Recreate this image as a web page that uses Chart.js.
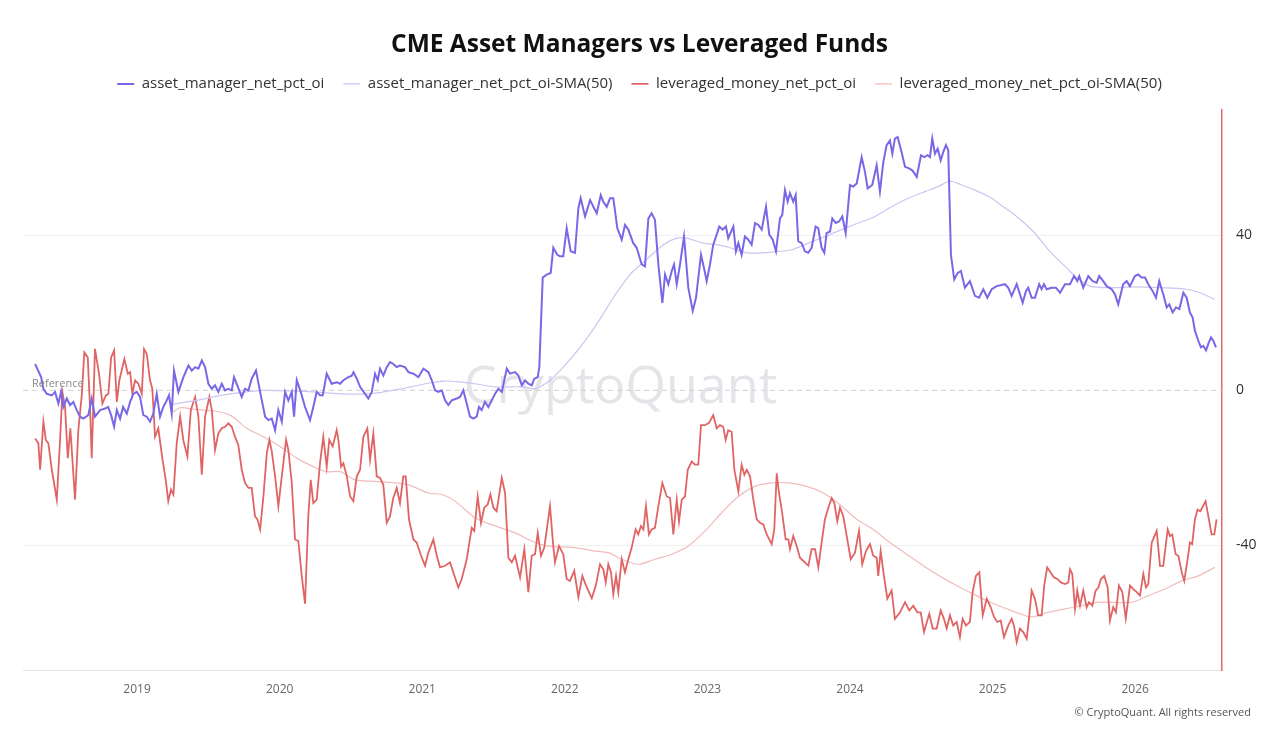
<!DOCTYPE html>
<html lang="en">
<head>
<meta charset="UTF-8">
<title>CME Asset Managers vs Leveraged Funds</title>
<script src="https://cdn.jsdelivr.net/npm/chart.js"></script>
<style>
    html, body {
        margin: 0;
        padding: 0;
        background-color: #ffffff;
    }

    .chart-box {
        position: relative;
        width: 1279px;
        height: 741px;
    }
</style>
</head>
<body>
<div class="chart-box">
    <canvas id="cme-chart"></canvas>
</div>

<script>
// Weekly net % of open interest, dates as decimal years
const amTime = [
    2018.285, 2018.327, 2018.343, 2018.367, 2018.402, 2018.425, 2018.448, 2018.467, 2018.483, 2018.507,
    2018.530, 2018.553, 2018.577, 2018.600, 2018.623, 2018.658, 2018.682, 2018.705, 2018.741, 2018.776,
    2018.797, 2018.818, 2018.839, 2018.858, 2018.881, 2018.902, 2018.928, 2018.951, 2018.974, 2018.998,
    2019.021, 2019.044, 2019.068, 2019.091, 2019.114, 2019.138, 2019.161, 2019.184, 2019.208, 2019.224,
    2019.243, 2019.259, 2019.290, 2019.325, 2019.360, 2019.384, 2019.407, 2019.430, 2019.454, 2019.477,
    2019.500, 2019.524, 2019.547, 2019.570, 2019.594, 2019.617, 2019.640, 2019.664, 2019.680, 2019.703,
    2019.734, 2019.757, 2019.781, 2019.804, 2019.834, 2019.863, 2019.898, 2019.921, 2019.945, 2019.968,
    2019.991, 2020.015, 2020.038, 2020.061, 2020.085, 2020.101, 2020.120, 2020.148, 2020.178, 2020.213,
    2020.236, 2020.260, 2020.283, 2020.302, 2020.330, 2020.365, 2020.400, 2020.424, 2020.447, 2020.482,
    2020.506, 2020.518, 2020.541, 2020.564, 2020.599, 2020.622, 2020.646, 2020.669, 2020.688, 2020.704,
    2020.727, 2020.751, 2020.774, 2020.797, 2020.821, 2020.844, 2020.879, 2020.903, 2020.938, 2020.973,
    2021.008, 2021.043, 2021.067, 2021.090, 2021.113, 2021.137, 2021.160, 2021.183, 2021.207, 2021.242,
    2021.265, 2021.288, 2021.312, 2021.335, 2021.358, 2021.382, 2021.398, 2021.417, 2021.440, 2021.464,
    2021.487, 2021.511, 2021.534, 2021.558, 2021.593, 2021.616, 2021.651, 2021.674, 2021.698, 2021.721,
    2021.744, 2021.768, 2021.786, 2021.810, 2021.821, 2021.845, 2021.873, 2021.901, 2021.919, 2021.947,
    2021.966, 2021.989, 2022.013, 2022.041, 2022.071, 2022.095, 2022.111, 2022.142, 2022.177, 2022.200,
    2022.224, 2022.252, 2022.270, 2022.294, 2022.317, 2022.340, 2022.368, 2022.399, 2022.422, 2022.445,
    2022.480, 2022.504, 2022.539, 2022.562, 2022.586, 2022.609, 2022.632, 2022.656, 2022.684, 2022.703,
    2022.726, 2022.750, 2022.766, 2022.785, 2022.808, 2022.836, 2022.866, 2022.897, 2022.920, 2022.936,
    2022.955, 2022.976, 2022.995, 2023.018, 2023.041, 2023.065, 2023.083, 2023.107, 2023.130, 2023.146,
    2023.182, 2023.200, 2023.217, 2023.240, 2023.263, 2023.287, 2023.310, 2023.334, 2023.357, 2023.381,
    2023.411, 2023.434, 2023.458, 2023.481, 2023.509, 2023.525, 2023.544, 2023.563, 2023.579, 2023.602,
    2023.619, 2023.637, 2023.661, 2023.684, 2023.707, 2023.731, 2023.759, 2023.777, 2023.801, 2023.820,
    2023.836, 2023.860, 2023.876, 2023.900, 2023.923, 2023.946, 2023.970, 2024.000, 2024.023, 2024.047,
    2024.082, 2024.105, 2024.124, 2024.156, 2024.187, 2024.210, 2024.234, 2024.257, 2024.280, 2024.297,
    2024.315, 2024.334, 2024.362, 2024.386, 2024.414, 2024.437, 2024.468, 2024.498, 2024.521, 2024.545,
    2024.561, 2024.577, 2024.596, 2024.615, 2024.636, 2024.654, 2024.673, 2024.689, 2024.708, 2024.731,
    2024.755, 2024.778, 2024.806, 2024.841, 2024.876, 2024.905, 2024.935, 2024.963, 2024.994, 2025.029,
    2025.087, 2025.110, 2025.134, 2025.169, 2025.192, 2025.211, 2025.234, 2025.250, 2025.274, 2025.297,
    2025.327, 2025.344, 2025.360, 2025.379, 2025.414, 2025.444, 2025.473, 2025.508, 2025.543, 2025.571,
    2025.594, 2025.608, 2025.636, 2025.671, 2025.702, 2025.730, 2025.748, 2025.776, 2025.800, 2025.835,
    2025.858, 2025.881, 2025.916, 2025.940, 2025.963, 2025.998, 2026.022, 2026.045, 2026.069, 2026.092,
    2026.123, 2026.146, 2026.169, 2026.197, 2026.221, 2026.239, 2026.263, 2026.286, 2026.310, 2026.338,
    2026.361, 2026.384, 2026.403, 2026.419, 2026.443, 2026.461, 2026.478, 2026.497, 2026.513, 2026.532,
    2026.548, 2026.567
];
const amValue = [
    6.8, 3.4, 0.4, -0.9, -1.3, -0.4, -3.4, -0.4, -4.3, -2.1,
    -3.8, -3.0, -5.1, -6.8, -7.3, -6.4, -2.1, -6.8, -5.1, -4.7,
    -4.3, -6.4, -9.4, -5.1, -7.3, -4.3, -6.0, -3.0, -0.9, -0.4,
    -1.7, -6.4, -6.8, -8.1, -6.0, -0.9, -6.8, -4.3, -2.6, -1.3,
    -6.0, 5.1, -0.4, 3.4, 6.4, 5.1, 6.0, 5.6, 7.7, 6.0,
    1.7, 0.4, 1.3, -0.4, 1.7, 0, 0.4, 0, 3.4, 1.3,
    -1.7, 0.4, 0, 3.0, 5.1, -0.4, -6.8, -7.7, -7.3, -10.3,
    -5.1, -8.1, -0.4, -2.6, -0.4, -6.8, 2.6, -0.4, -4.3, -7.7,
    -4.3, -0.4, -1.3, -1.3, 4.3, 1.7, 2.1, 1.7, 2.6, 3.4,
    3.8, 4.7, 3.0, 0.9, -0.9, -2.1, -0.4, 4.3, 2.6, 5.6,
    3.8, 6.0, 7.3, 6.8, 6.0, 6.4, 6.0, 4.7, 4.3, 3.4,
    5.6, 4.7, 2.6, 0, -0.4, 0, -2.6, -3.8, -2.6, -2.1,
    -1.7, 0, -3.4, -6.8, -7.3, -6.8, -4.3, -5.1, -3.0, -4.3,
    -2.6, -0.9, 0.4, -0.4, 5.6, 4.3, 4.7, 3.8, 1.3, 2.6,
    1.7, 1.3, 3.0, 3.4, 5.9, 29.1, 29.9, 30.3, 36.8, 35.0,
    34.6, 34.6, 41.9, 35.9, 35.5, 47.0, 49.6, 44.9, 49.1, 47.4,
    45.7, 50.4, 48.7, 47.4, 49.6, 49.6, 41.9, 38.9, 42.7, 41.5,
    38.0, 36.8, 32.5, 32.0, 44.4, 45.7, 44.0, 32.5, 22.6, 29.9,
    27.4, 30.8, 32.5, 27.4, 32.5, 39.7, 26.5, 20.5, 23.9, 29.0,
    35.0, 31.6, 28.2, 32.5, 37.6, 40.2, 42.3, 41.5, 42.3, 39.3,
    42.3, 35.9, 38.0, 35.0, 39.7, 38.9, 37.6, 43.2, 42.7, 41.5,
    47.4, 40.2, 38.9, 35.9, 44.4, 45.3, 51.7, 48.7, 50.9, 48.7,
    50.4, 38.5, 38.0, 35.9, 35.5, 36.8, 42.3, 41.9, 36.8, 35.5,
    40.6, 41.0, 44.4, 43.2, 43.6, 44.9, 40.6, 53.0, 52.6, 53.4,
    60.2, 56.4, 52.1, 53.0, 58.1, 51.3, 59.0, 63.3, 64.5, 61.1,
    65.0, 65.4, 61.5, 57.7, 57.3, 56.8, 55.1, 60.7, 60.2, 60.7,
    60.2, 65.0, 61.1, 62.4, 59.4, 61.5, 63.3, 62.0, 35.0, 28.6,
    30.3, 30.8, 26.5, 28.2, 24.4, 23.9, 26.1, 23.9, 26.1, 26.9,
    27.4, 26.5, 24.4, 27.4, 24.8, 22.6, 25.6, 26.5, 23.9, 23.9,
    27.4, 26.1, 27.4, 26.1, 26.5, 26.5, 25.2, 27.4, 27.4, 29.5,
    28.2, 29.5, 26.5, 29.5, 28.2, 27.8, 29.5, 28.2, 26.9, 26.1,
    24.8, 22.2, 27.4, 28.2, 26.9, 29.5, 29.9, 29.1, 29.1, 27.4,
    25.6, 23.9, 28.2, 24.8, 21.4, 22.2, 20.1, 21.4, 21.0, 25.2,
    23.9, 20.1, 18.8, 15.4, 12.8, 11.1, 11.5, 10.3, 12.0, 13.7,
    12.8, 11.1
];

const lmTime = [
    2018.285, 2018.308, 2018.320, 2018.343, 2018.360, 2018.378, 2018.402, 2018.437, 2018.460, 2018.476,
    2018.495, 2018.514, 2018.532, 2018.565, 2018.588, 2018.612, 2018.630, 2018.654, 2018.670, 2018.682,
    2018.705, 2018.733, 2018.757, 2018.781, 2018.799, 2018.818, 2018.839, 2018.858, 2018.876, 2018.911,
    2018.935, 2018.951, 2018.967, 2018.986, 2019.009, 2019.033, 2019.049, 2019.068, 2019.091, 2019.107,
    2019.126, 2019.149, 2019.177, 2019.201, 2019.219, 2019.238, 2019.255, 2019.278, 2019.302, 2019.325,
    2019.353, 2019.377, 2019.407, 2019.430, 2019.454, 2019.477, 2019.507, 2019.524, 2019.547, 2019.570,
    2019.594, 2019.617, 2019.640, 2019.664, 2019.687, 2019.710, 2019.734, 2019.757, 2019.781, 2019.804,
    2019.827, 2019.844, 2019.863, 2019.886, 2019.910, 2019.928, 2019.945, 2019.968, 2019.991, 2020.015,
    2020.045, 2020.061, 2020.085, 2020.108, 2020.131, 2020.155, 2020.178, 2020.201, 2020.218, 2020.236,
    2020.260, 2020.283, 2020.306, 2020.330, 2020.348, 2020.372, 2020.400, 2020.412, 2020.431, 2020.447,
    2020.471, 2020.494, 2020.517, 2020.541, 2020.564, 2020.587, 2020.615, 2020.634, 2020.657, 2020.681,
    2020.704, 2020.727, 2020.751, 2020.774, 2020.797, 2020.821, 2020.844, 2020.867, 2020.884, 2020.907,
    2020.938, 2020.961, 2020.992, 2021.020, 2021.043, 2021.078, 2021.102, 2021.125, 2021.160, 2021.195,
    2021.218, 2021.253, 2021.277, 2021.312, 2021.347, 2021.365, 2021.389, 2021.412, 2021.435, 2021.459,
    2021.478, 2021.499, 2021.522, 2021.558, 2021.581, 2021.604, 2021.628, 2021.651, 2021.686, 2021.716,
    2021.744, 2021.768, 2021.791, 2021.810, 2021.833, 2021.856, 2021.896, 2021.919, 2021.931, 2021.959,
    2021.989, 2022.013, 2022.036, 2022.066, 2022.095, 2022.123, 2022.154, 2022.189, 2022.217, 2022.247,
    2022.270, 2022.287, 2022.305, 2022.324, 2022.340, 2022.359, 2022.375, 2022.399, 2022.422, 2022.445,
    2022.469, 2022.497, 2022.515, 2022.534, 2022.551, 2022.569, 2022.590, 2022.609, 2022.632, 2022.656,
    2022.684, 2022.715, 2022.738, 2022.761, 2022.785, 2022.801, 2022.820, 2022.843, 2022.862, 2022.890,
    2022.913, 2022.936, 2022.955, 2022.983, 2023.011, 2023.041, 2023.065, 2023.088, 2023.111, 2023.128,
    2023.146, 2023.170, 2023.189, 2023.217, 2023.240, 2023.259, 2023.276, 2023.299, 2023.322, 2023.346,
    2023.369, 2023.392, 2023.416, 2023.451, 2023.469, 2023.486, 2023.502, 2023.521, 2023.549, 2023.568,
    2023.579, 2023.602, 2023.626, 2023.649, 2023.672, 2023.708, 2023.731, 2023.755, 2023.778, 2023.801,
    2023.824, 2023.848, 2023.872, 2023.890, 2023.911, 2023.930, 2023.953, 2023.981, 2024.005, 2024.035,
    2024.063, 2024.086, 2024.112, 2024.140, 2024.163, 2024.187, 2024.198, 2024.215, 2024.238, 2024.262,
    2024.292, 2024.315, 2024.351, 2024.386, 2024.416, 2024.444, 2024.472, 2024.496, 2024.519, 2024.556,
    2024.580, 2024.608, 2024.636, 2024.659, 2024.678, 2024.701, 2024.724, 2024.748, 2024.771, 2024.790,
    2024.813, 2024.841, 2024.860, 2024.883, 2024.907, 2024.931, 2024.959, 2024.987, 2025.010, 2025.033,
    2025.057, 2025.080, 2025.110, 2025.134, 2025.150, 2025.169, 2025.192, 2025.215, 2025.239, 2025.255,
    2025.274, 2025.297, 2025.320, 2025.344, 2025.362, 2025.383, 2025.407, 2025.431, 2025.454, 2025.478,
    2025.508, 2025.531, 2025.543, 2025.559, 2025.578, 2025.594, 2025.613, 2025.636, 2025.660, 2025.676,
    2025.700, 2025.723, 2025.742, 2025.760, 2025.783, 2025.807, 2025.823, 2025.846, 2025.865, 2025.886,
    2025.910, 2025.934, 2025.964, 2025.987, 2026.011, 2026.034, 2026.057, 2026.076, 2026.092, 2026.116,
    2026.151, 2026.174, 2026.197, 2026.228, 2026.244, 2026.260, 2026.284, 2026.303, 2026.327, 2026.344,
    2026.368, 2026.384, 2026.400, 2026.419, 2026.438, 2026.457, 2026.494, 2026.517, 2026.536, 2026.555,
    2026.571
];
const lmValue = [
    -12.4, -13.7, -20.5, -8.1, -12.8, -13.7, -20.5, -28.2, -12.8, -0.4,
    -4.3, -17.5, -9.8, -28.2, -10.3, -1.3, 9.8, 8.5, -4.3, -17.5,
    10.7, 4.3, -3.4, -1.3, -0.9, 8.5, 10.3, -3.0, 2.6, 8.1,
    4.3, 4.7, -0.9, 2.6, 1.7, -0.9, 10.7, 9.4, 2.6, 0.4,
    -12.0, -9.8, -17.5, -23.1, -28.6, -25.6, -26.9, -13.7, -6.8, -13.0,
    -17.1, -5.1, -1.7, -6.8, -21.8, -6.8, -1.7, -5.1, -15.4, -11.1,
    -9.8, -9.4, -8.5, -9.4, -12.0, -14.1, -20.5, -23.9, -25.2, -25.2,
    -32.5, -33.3, -35.9, -27.4, -16.2, -12.8, -15.8, -22.2, -29.9, -22.2,
    -12.8, -15.4, -23.9, -38.5, -38.9, -47.9, -55.1, -32.5, -23.1, -29.1,
    -28.2, -18.8, -12.0, -19.7, -12.8, -14.5, -10.3, -12.8, -19.7, -18.8,
    -22.2, -27.4, -28.6, -22.2, -20.5, -12.0, -9.8, -17.9, -11.1, -22.2,
    -22.6, -24.4, -34.2, -32.5, -27.8, -25.2, -29.1, -22.2, -22.2, -33.3,
    -38.5, -39.3, -42.7, -45.3, -41.9, -38.5, -42.7, -45.7, -45.3, -44.4,
    -47.0, -50.9, -48.7, -43.6, -35.5, -36.3, -27.4, -34.2, -30.3, -29.5,
    -26.9, -30.3, -31.2, -22.6, -26.5, -43.2, -44.4, -42.7, -48.3, -41.0,
    -52.1, -42.7, -42.3, -36.8, -42.7, -40.6, -29.9, -40.2, -44.4, -40.2,
    -42.3, -48.7, -49.2, -46.6, -53.4, -47.9, -50.9, -53.7, -50.4, -44.9,
    -46.2, -49.6, -44.9, -47.0, -52.6, -47.9, -52.1, -43.6, -47.0, -43.6,
    -40.6, -35.9, -37.2, -35.0, -35.9, -29.9, -37.2, -35.9, -35.5, -29.9,
    -23.9, -27.4, -27.8, -37.2, -28.2, -33.8, -28.2, -27.4, -20.5, -18.4,
    -19.2, -19.2, -9.0, -9.0, -8.4, -6.4, -9.8, -9.0, -9.4, -12.8,
    -10.3, -10.7, -20.5, -26.1, -19.2, -21.8, -20.5, -22.2, -28.2, -33.3,
    -34.2, -34.6, -37.2, -39.7, -35.9, -21.4, -26.5, -30.8, -38.5, -38.5,
    -41.0, -37.6, -40.2, -43.2, -44.0, -45.3, -41.0, -41.0, -45.7, -39.3,
    -33.3, -30.3, -27.8, -29.1, -33.8, -30.3, -32.5, -38.5, -43.6, -41.9,
    -36.3, -44.9, -41.5, -39.7, -42.7, -43.2, -47.9, -41.5, -47.9, -53.8,
    -51.7, -59.0, -57.3, -54.7, -56.8, -55.6, -57.3, -57.3, -62.4, -57.7,
    -61.5, -61.5, -56.8, -59.0, -61.5, -58.1, -60.7, -59.8, -63.7, -59.0,
    -60.7, -59.8, -52.1, -47.9, -47.0, -58.1, -53.8, -56.0, -58.5, -59.8,
    -59.4, -63.7, -60.7, -59.0, -60.7, -65.0, -61.5, -62.4, -64.1, -59.0,
    -51.7, -53.8, -58.1, -58.1, -50.4, -45.7, -47.0, -48.3, -48.7, -49.6,
    -50.0, -49.6, -46.2, -47.4, -56.4, -51.7, -55.6, -51.7, -56.0, -54.7,
    -55.6, -51.7, -50.9, -48.7, -47.9, -50.9, -59.4, -56.0, -57.3, -50.4,
    -52.1, -58.9, -50.4, -51.3, -52.1, -53.0, -47.4, -50.9, -50.0, -39.3,
    -36.3, -45.3, -45.3, -35.9, -37.6, -37.2, -42.3, -42.7, -47.0, -49.2,
    -43.6, -39.3, -39.7, -33.3, -30.8, -31.2, -28.6, -33.3, -37.2, -37.2,
    -33.3
];

// 50-week simple moving averages
const amSmaTime = [
    2019.243, 2019.419, 2019.535, 2019.652, 2019.769, 2019.886, 2020.120, 2020.236, 2020.424, 2020.620,
    2020.856, 2021.020, 2021.160, 2021.277, 2021.370, 2021.511, 2021.698, 2021.791, 2021.826, 2021.896,
    2021.989, 2022.107, 2022.224, 2022.340, 2022.457, 2022.574, 2022.691, 2022.785, 2022.855, 2022.971,
    2023.065, 2023.158, 2023.276, 2023.392, 2023.509, 2023.591, 2023.707, 2023.825, 2023.942, 2024.058,
    2024.175, 2024.292, 2024.409, 2024.526, 2024.619, 2024.701, 2024.783, 2024.876, 2024.994, 2025.052,
    2025.169, 2025.285, 2025.402, 2025.519, 2025.589, 2025.683, 2025.823, 2025.987, 2026.174, 2026.361,
    2026.454, 2026.559
];
const amSmaValue = [
    -3.6, -2.6, -1.7, -0.9, -0.4, 0, -0.2, -0.4, -0.9, -0.9,
    0.4, 1.7, 2.4, 2.1, 1.7, 0.9, 0.9, 0.4, 0.9, 2.6,
    6.0, 11.1, 17.1, 23.9, 29.9, 33.8, 37.6, 39.3, 39.3, 38.0,
    37.6, 36.8, 35.5, 35.5, 35.9, 36.3, 38.0, 39.7, 41.5, 43.2,
    44.9, 47.4, 49.6, 51.3, 52.6, 54.0, 53.0, 51.7, 49.6, 48.0,
    44.9, 41.0, 35.9, 31.6, 29.1, 26.9, 26.5, 26.7, 26.5, 26.1,
    25.2, 23.5
];

const lmSmaTime = [
    2019.252, 2019.302, 2019.419, 2019.535, 2019.652, 2019.769, 2019.886, 2020.003, 2020.120, 2020.236,
    2020.330, 2020.424, 2020.529, 2020.669, 2020.809, 2020.903, 2021.043, 2021.137, 2021.230, 2021.370,
    2021.511, 2021.651, 2021.791, 2021.884, 2022.071, 2022.212, 2022.305, 2022.399, 2022.515, 2022.632,
    2022.750, 2022.866, 2022.983, 2023.100, 2023.217, 2023.334, 2023.451, 2023.568, 2023.697, 2023.813,
    2023.930, 2024.047, 2024.163, 2024.280, 2024.397, 2024.514, 2024.626, 2024.748, 2024.864, 2024.982,
    2025.099, 2025.192, 2025.274, 2025.390, 2025.508, 2025.625, 2025.742, 2025.976, 2026.092, 2026.209,
    2026.327, 2026.443, 2026.559
];
const lmSmaValue = [
    -5.6, -4.5, -5.0, -5.3, -6.4, -9.8, -12.0, -14.5, -17.5, -19.7,
    -21.0, -21.0, -23.1, -23.5, -23.9, -24.4, -26.5, -26.9, -28.6, -32.9,
    -35.0, -36.8, -39.3, -40.2, -40.6, -41.5, -41.9, -43.6, -44.9, -43.6,
    -42.3, -40.2, -36.3, -31.6, -27.4, -24.8, -23.9, -23.9, -24.8, -26.5,
    -29.5, -33.3, -35.9, -39.3, -42.3, -45.3, -47.9, -50.4, -52.6, -54.7,
    -56.4, -57.7, -58.5, -57.3, -56.4, -55.6, -54.7, -54.7, -53.0, -51.3,
    -49.2, -47.9, -45.7
];

// Reference line at zero, spanning the visible range
const refTime = [2018.2, 2026.609];
const refValue = [0, 0];

// Tick labels
const yearTicks = [2019, 2020, 2021, 2022, 2023, 2024, 2025, 2026];
const valueTicks = [-40, 0, 40];

const X_MIN = 2018.2;
const X_MAX = 2026.609;

function toPoints(times, values) {
    return times.map((t, i) => ({ x: t, y: values[i] }));
}

Chart.defaults.font.family = "'Open Sans', 'DejaVu Sans', sans-serif";

// Faint brand mark behind the lines
const watermarkPlugin = {
    id: 'watermark',
    beforeDatasetsDraw(chart) {
        const { ctx, chartArea } = chart;
        ctx.save();
        ctx.font = "500 52px 'Open Sans', sans-serif";
        ctx.fillStyle = 'rgba(175, 175, 190, 0.34)';
        ctx.textAlign = 'center';
        ctx.textBaseline = 'middle';
        ctx.fillText('CryptoQuant', (chartArea.left + chartArea.right) / 2 - 2, (chartArea.top + chartArea.bottom) / 2 - 2);
        ctx.restore();
    }
};

// "Reference" tag and footer
const captionPlugin = {
    id: 'captions',
    afterDraw(chart) {
        const { ctx, chartArea, scales } = chart;
        ctx.save();
        ctx.font = "11px 'Open Sans', sans-serif";
        ctx.fillStyle = '#888';
        ctx.textAlign = 'left';
        ctx.textBaseline = 'middle';
        ctx.fillText('Reference', chartArea.left + 9, scales.y.getPixelForValue(0) - 6);

        ctx.fillStyle = '#555';
        ctx.textAlign = 'right';
        ctx.fillText('© CryptoQuant. All rights reserved', 1251, 713);
        ctx.restore();
    }
};

const ctx = document.getElementById('cme-chart').getContext('2d');
const cmeChart = new Chart(ctx, {
    type: 'line',
    data: {
        datasets: [
            {
                label: 'asset_manager_net_pct_oi',
                data: toPoints(amTime, amValue),
                borderColor: '#7868e6',
                borderWidth: 2,
                pointRadius: 0,
                tension: 0
            },
            {
                label: 'asset_manager_net_pct_oi-SMA(50)',
                data: toPoints(amSmaTime, amSmaValue),
                borderColor: '#cbc6f0',
                borderWidth: 1.2,
                pointRadius: 0,
                tension: 0.3
            },
            {
                label: 'leveraged_money_net_pct_oi',
                data: toPoints(lmTime, lmValue),
                borderColor: '#e06464',
                borderWidth: 1.8,
                pointRadius: 0,
                tension: 0
            },
            {
                label: 'leveraged_money_net_pct_oi-SMA(50)',
                data: toPoints(lmSmaTime, lmSmaValue),
                borderColor: '#f1bcbc',
                borderWidth: 1.2,
                pointRadius: 0,
                tension: 0.3
            },
            {
                label: 'Reference',
                data: toPoints(refTime, refValue),
                borderColor: '#cfcfcf',
                borderWidth: 1,
                borderDash: [5, 4],
                pointRadius: 0
            }
        ]
    },
    options: {
        responsive: true,
        maintainAspectRatio: false,
        animation: false,
        layout: {
            padding: 0
        },
        plugins: {
            title: {
                display: true,
                text: 'CME Asset Managers vs Leveraged Funds',
                color: '#111',
                font: { size: 24.5, weight: 'bold' },
                padding: { top: 30, bottom: -2 }
            },
            legend: {
                display: true,
                labels: {
                    usePointStyle: true,
                    pointStyle: 'line',
                    pointStyleWidth: 17,
                    color: '#333',
                    font: { size: 15 },
                    padding: 19,
                    filter: item => item.text !== 'Reference'
                }
            },
            tooltip: { enabled: false }
        },
        scales: {
            x: {
                type: 'linear',
                min: X_MIN,
                max: X_MAX,
                afterBuildTicks: scale => {
                    scale.ticks = yearTicks.map(v => ({ value: v }));
                },
                afterFit: scale => {
                    scale.height = 71;
                },
                grid: { display: false, drawTicks: false },
                border: { color: '#e3e3e3', width: 1 },
                ticks: {
                    padding: 12,
                    color: '#666',
                    font: { size: 12 },
                    autoSkip: false,
                    maxRotation: 0,
                    callback: v => String(v)
                }
            },
            // spacer between legend and plot area
            xTop: {
                type: 'linear',
                position: 'top',
                min: X_MIN,
                max: X_MAX,
                grid: { display: false, drawTicks: false },
                border: { display: false },
                ticks: { display: false },
                afterFit: scale => {
                    scale.height = 8.5;
                }
            },
            // left margin, keeps title and legend centred on the page
            yLeft: {
                position: 'left',
                min: -72.2,
                max: 72.4,
                grid: { display: false, drawTicks: false },
                border: { display: false },
                ticks: { display: false },
                afterFit: scale => {
                    scale.width = 23;
                }
            },
            y: {
                position: 'right',
                min: -72.2,
                max: 72.4,
                afterBuildTicks: scale => {
                    scale.ticks = valueTicks.map(v => ({ value: v }));
                },
                afterFit: scale => {
                    scale.width = 57;
                },
                grid: {
                    drawTicks: false,
                    color: c => (c.tick && c.tick.value === 0) ? 'rgba(0,0,0,0)' : '#f0f0f0'
                },
                border: { color: '#e06a6a', width: 1.5 },
                ticks: {
                    padding: 14,
                    color: '#333',
                    font: { size: 14 }
                }
            }
        }
    },
    plugins: [watermarkPlugin, captionPlugin]
});
</script>
</body>
</html>
